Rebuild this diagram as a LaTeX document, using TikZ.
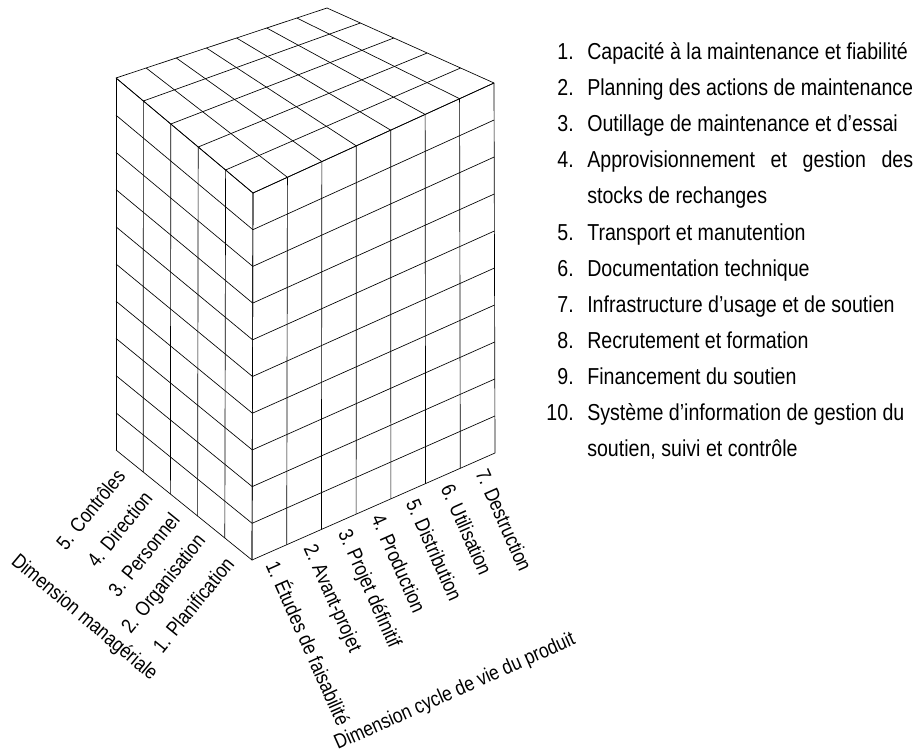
\documentclass[tikz,border=0pt]{standalone}
\usepackage{fontspec}
\setmainfont[FakeStretch=0.85]{Liberation Sans}
\usetikzlibrary{calc}
\newcommand{\lstfnt}{\fontsize{17.3pt}{20pt}\selectfont}
\newcommand{\labfnt}{\fontsize{15.4pt}{18pt}\selectfont}
\newlength{\lineW}
\begin{document}
\settowidth{\lineW}{\lstfnt Planning des actions de maintenance}
\begin{tikzpicture}[x=0.75pt,y=-0.75pt,
  gridline/.style={line width=0.5pt, black},
  num/.style={anchor=base east, inner sep=0pt, font=\lstfnt},
  txt/.style={anchor=base west, inner sep=0pt, font=\lstfnt},
  mlab/.style={anchor=east, rotate=51, inner sep=0pt, font=\labfnt},
  clab/.style={anchor=west, rotate=-66, inner sep=0pt, font=\labfnt},
  dlab/.style={inner sep=0pt, font=\labfnt}]
\useasboundingbox (0,0) rectangle (920,752);
% cube corners
\coordinate (L) at (116,78);
\coordinate (F) at (253,193);
\coordinate (R) at (494,83);
\coordinate (T) at (327,8);
\coordinate (Lb) at (116,450);
\coordinate (Fb) at (252,560);
\coordinate (Rb) at (495,453);
% left face
\foreach \i in {0,...,5} \draw[gridline] ($(L)!\i/5!(F)$) -- ($(Lb)!\i/5!(Fb)$);
\foreach \k in {0,...,10} \draw[gridline] ($(L)!\k/10!(Lb)$) -- ($(F)!\k/10!(Fb)$);
% right face
\foreach \j in {0,...,7} \draw[gridline] ($(F)!\j/7!(R)$) -- ($(Fb)!\j/7!(Rb)$);
\foreach \k in {0,...,10} \draw[gridline] ($(F)!\k/10!(Fb)$) -- ($(R)!\k/10!(Rb)$);
% top face
\foreach \i in {0,...,5} \draw[gridline] ($(L)!\i/5!(F)$) -- ($(T)!\i/5!(R)$);
\foreach \j in {0,...,7} \draw[gridline] ($(L)!\j/7!(T)$) -- ($(F)!\j/7!(R)$);
% managerial labels
\foreach \c/\name [count=\n] in {1/Planification, 2/Organisation, 3/Personnel, 4/Direction, 5/Contrôles}
  \node[mlab] (m\n) at ($(Lb)!{(5-\c+0.5)/5}!(Fb) + (-0.629*14,0.777*14)$) {\c. \name};
\node[dlab, rotate=-40] (mdim) at (84,618) {Dimension managériale};
% life cycle labels
\foreach \c/\name [count=\n] in {1/Études de faisabilité, 2/Avant-projet, 3/Projet définitif, 4/Production, 5/Distribution, 6/Utilisation, 7/Destruction}
  \node[clab] (c\n) at ($(Fb)!{(\c-0.5)/7}!(Rb) + (0.404*10,0.915*10)$) {\c. \name};
\node[dlab, rotate=24] (cdim) at (455,692) {Dimension cycle de vie du produit};
% list
\def\xn{574}\def\xt{587}
\node[num] (n1) at (\xn,60) {1.};
\node[txt] (t1) at (\xt,60) {Capacité à la maintenance et fiabilité};
\node[num] (n2) at (\xn,96) {2.};
\node[txt] (t2) at (\xt,96) {Planning des actions de maintenance};
\node[num] (n3) at (\xn,132) {3.};
\node[txt] (t3) at (\xt,132) {Outillage de maintenance et d'essai};
\node[num] (n4) at (\xn,168) {4.};
\node[txt] (t4) at (\xt,168) {\hbox to \lineW{Approvisionnement\hfill et\hfill gestion\hfill des}};
\node[txt] (t4b) at (\xt,204) {stocks de rechanges};
\node[num] (n5) at (\xn,240) {5.};
\node[txt] (t5) at (\xt,240) {Transport et manutention};
\node[num] (n6) at (\xn,276) {6.};
\node[txt] (t6) at (\xt,276) {Documentation technique};
\node[num] (n7) at (\xn,312) {7.};
\node[txt] (t7) at (\xt,312) {Infrastructure d'usage et de soutien};
\node[num] (n8) at (\xn,348) {8.};
\node[txt] (t8) at (\xt,348) {Recrutement et formation};
\node[num] (n9) at (\xn,384) {9.};
\node[txt] (t9) at (\xt,384) {Financement du soutien};
\node[num] (n10) at (\xn,420) {10.};
\node[txt] (t10) at (\xt,420) {Système d'information de gestion du};
\node[txt] (t10b) at (\xt,456) {soutien, suivi et contrôle};
\end{tikzpicture}
\end{document}
